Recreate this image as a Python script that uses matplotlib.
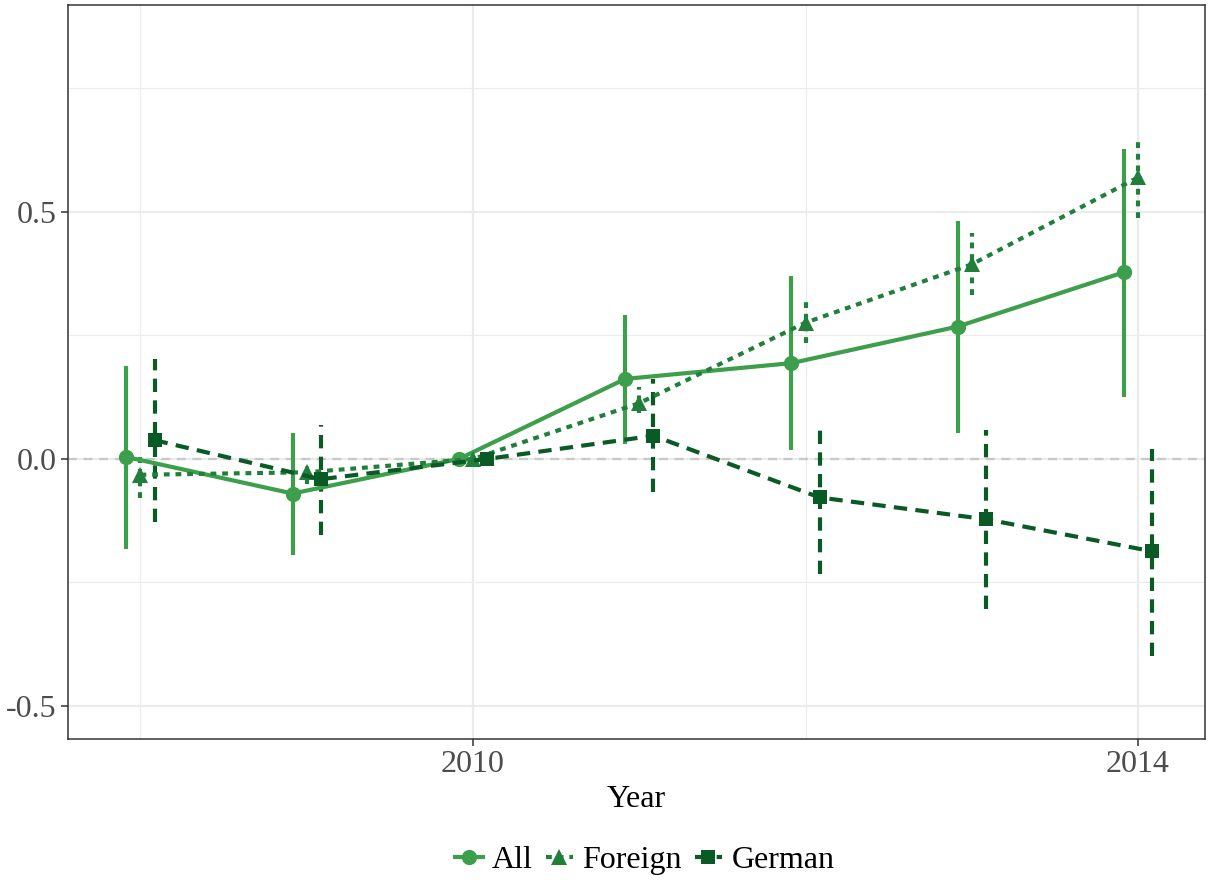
import matplotlib
matplotlib.use("Agg")
import matplotlib.pyplot as plt
from matplotlib.lines import Line2D
import numpy as np

years = [2008, 2009, 2010, 2011, 2012, 2013, 2014]
groups = ["All", "Foreign", "German"]

all_est = [0.004, -0.070, 0.0, 0.162, 0.194, 0.268, 0.378]
all_lo = [-0.182, -0.194, 0.0, 0.031, 0.018, 0.053, 0.126]
all_hi = [0.188, 0.052, 0.0, 0.291, 0.370, 0.482, 0.627]

for_est = [-0.032, -0.027, 0.0, 0.113, 0.276, 0.394, 0.570]
for_lo = [-0.079, -0.051, 0.0, 0.093, 0.235, 0.331, 0.487]
for_hi = [0.008, -0.004, 0.0, 0.146, 0.326, 0.457, 0.648]

ger_est = [0.038, -0.041, 0.0, 0.047, -0.078, -0.122, -0.187]
ger_lo = [-0.127, -0.153, 0.0, -0.066, -0.233, -0.303, -0.399]
ger_hi = [0.203, 0.069, 0.0, 0.161, 0.072, 0.059, 0.021]

estimates = [all_est, for_est, ger_est]
lows = [all_lo, for_lo, ger_lo]
highs = [all_hi, for_hi, ger_hi]

colors = ["#3d9f4c", "#217f3b", "#0a5a25"]
markers = ["o", "^", "s"]
msizes = [11, 12, 10.5]
styles = ["-", (0, (1.4, 1.4)), (0, (3.2, 2.0))]
offsets = [-0.085, 0.0, 0.085]

plt.rcParams["font.family"] = ["Liberation Serif", "DejaVu Serif"]

fig = plt.figure(figsize=(12.1, 8.8), dpi=100)
ax = fig.add_axes([0.0562, 0.1602, 0.9397, 0.8341])

ax.set_xlim(2007.564, 2014.403)
ax.set_ylim(-0.567, 0.919)

# grid
for gx in [2008, 2012]:
    ax.axvline(gx, color="#ebebeb", lw=0.8, zorder=0)
for gx in [2010, 2014]:
    ax.axvline(gx, color="#ebebeb", lw=1.6, zorder=0)
for gy in [-0.25, 0.25, 0.75]:
    ax.axhline(gy, color="#ebebeb", lw=0.8, zorder=0)
for gy in [-0.5, 0.0, 0.5]:
    ax.axhline(gy, color="#ebebeb", lw=1.6, zorder=0)

ax.axhline(0, color="#c8c8c8", lw=1.6, linestyle=(0, (4, 3)), zorder=1)

yrs = np.array(years, dtype=float)
for i, g in enumerate(groups):
    xs = yrs + offsets[i]
    est = np.array(estimates[i])
    lo = np.array(lows[i])
    hi = np.array(highs[i])
    for x, l, h in zip(xs, lo, hi):
        if h - l > 0:
            ax.plot([x, x], [l, h], color=colors[i], lw=3.0, linestyle=styles[i],
                    solid_capstyle="butt", dash_capstyle="butt", zorder=3)
    ax.plot(xs, est, color=colors[i], lw=3.0, linestyle=styles[i],
            marker=markers[i], markersize=msizes[i], markeredgewidth=0,
            dash_capstyle="butt", zorder=4)

ax.set_xticks([2010, 2014])
ax.set_xticklabels(["2010", "2014"])
ax.set_yticks([-0.5, 0.0, 0.5])
ax.set_yticklabels(["-0.5", "0.0", "0.5"])
ax.tick_params(axis="both", labelsize=23, colors="#333333", labelcolor="#4d4d4d",
               length=5, width=1.1, pad=3)
ax.set_xlabel("Year", fontsize=23, color="black", labelpad=4)

for sp in ax.spines.values():
    sp.set_color("#333333")
    sp.set_linewidth(1.1)

handles = [Line2D([0], [0], color=colors[i], lw=3.0, linestyle=styles[i],
                  marker=markers[i], markersize=msizes[i], markeredgewidth=0)
           for i in range(3)]
fig.legend(handles, groups, loc="center", bbox_to_anchor=(0.533, 0.022), ncol=3,
           frameon=False, fontsize=23, handlelength=0.85, handletextpad=0.3,
           columnspacing=0.4)

fig.savefig("out.png", dpi=100)
